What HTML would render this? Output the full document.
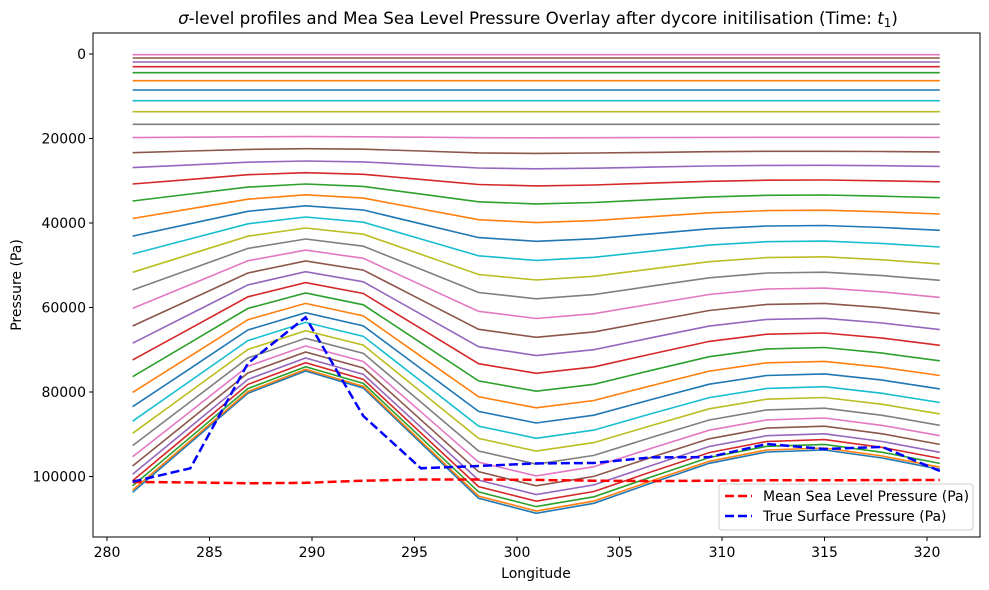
<!DOCTYPE html>
<html><head><meta charset="utf-8"><style>
body{margin:0;background:#fff}
svg{display:block;font-family:"DejaVu Sans","Liberation Sans",sans-serif}
</style></head><body>
<svg id="chart" width="989" height="590" viewBox="0 0 989 590" xmlns="http://www.w3.org/2000/svg">
<rect x="0" y="0" width="989" height="590" fill="#fff"/>
<text x="538" y="24" font-size="16.7" text-anchor="middle"><tspan font-style="italic">σ</tspan>-level profiles and Mea Sea Level Pressure Overlay after dycore initilisation (Time: <tspan font-style="italic">t</tspan><tspan font-size="12" dy="3">1</tspan><tspan dy="-3">)</tspan></text>
<g id="plot"></g>
<rect x="93" y="33" width="887" height="504" fill="none" stroke="#000" stroke-width="1"/>
<g id="xticks"></g>
<g id="yticks"></g>
<text x="536" y="578" font-size="14" text-anchor="middle">Longitude</text>
<text x="0" y="0" font-size="14" text-anchor="middle" transform="translate(21,285) rotate(-90)">Pressure (Pa)</text>
<g>
<rect x="719" y="484" width="254" height="46" rx="3" fill="#fff" fill-opacity="0.8" stroke="#ccc"/>
<line x1="725" y1="496" x2="752" y2="496" stroke="#ff0000" stroke-width="2.5" stroke-dasharray="9,4"/>
<text x="763" y="501" font-size="14">Mean Sea Level Pressure (Pa)</text>
<line x1="725" y1="516" x2="752" y2="516" stroke="#0000ff" stroke-width="2.5" stroke-dasharray="9,4"/>
<text x="763" y="521" font-size="14"> True Surface Pressure (Pa)</text>
</g>
</svg>
<script>
const longitudes = [281.25,284.0625,286.875,289.6875,292.5,295.3125,298.125,300.9375,303.75,306.5625,309.375,312.1875,315,317.8125,320.625];
const modelSurface = [103740,92030,80310,75030,79060,92100,105170,108720,106350,101550,96880,94200,93730,95630,98300];
const trueSurface = [101230,98070,73210,62320,85690,98070,97520,96890,96800,95470,95400,92300,93500,93000,98700];
const mslp = [101300,101400,101600,101500,101000,100700,100700,100800,101000,101100,101000,100900,100900,100850,100830];
const hybridA = [0,0,260,70,0,0,590,880,2010,2460,3080,3950,4800,6320,7340,8780,10320,12280,13800,15690,17160,18700,20260,21110,21190,19930,18960,16640,13660,11050,8520,6320,4430,3010,1890,950,170];
const hybridB = [1,0.995,0.983,0.973,0.959,0.94,0.913,0.885,0.846,0.814,0.775,0.734,0.69,0.637,0.589,0.536,0.481,0.42,0.365,0.305,0.25,0.195,0.14,0.093,0.055,0.033,0.008,0,0,0,0,0,0,0,0,0,0];
const xTicks = [280,285,290,295,300,305,310,315,320];
const yTicks = [0,20000,40000,60000,80000,100000];
const palette = ['#1f77b4','#ff7f0e','#2ca02c','#d62728','#9467bd','#8c564b','#e377c2','#7f7f7f','#bcbd22','#17becf'];
const NS='http://www.w3.org/2000/svg';
function xs(v){return 107+(v-280)*20.5;}
function ys(p){return 54+p*0.004225;}
function mk(t,a,parent){const e=document.createElementNS(NS,t);for(const k in a)e.setAttribute(k,a[k]);parent.appendChild(e);return e;}
const plot=document.getElementById('plot');
function pts(arr){return arr.map((p,i)=>xs(longitudes[i]).toFixed(1)+','+ys(p).toFixed(1)).join(' ');}
for(let k=0;k<hybridA.length;k++){
  const vals=modelSurface.map(ps=>hybridA[k]+hybridB[k]*ps);
  const l=mk('polyline',{points:pts(vals),fill:'none',stroke:palette[k%10],'stroke-width':1.6},plot);
  
  
}
const m=mk('polyline',{points:pts(mslp),fill:'none',stroke:'#ff0000','stroke-width':2.5,'stroke-dasharray':'9,4'},plot);


const s=mk('polyline',{points:pts(trueSurface),fill:'none',stroke:'#0000ff','stroke-width':2.5,'stroke-dasharray':'9,4'},plot);


const xg=document.getElementById('xticks');
xTicks.forEach(v=>{
  const t=mk('line',{x1:xs(v),y1:537,x2:xs(v),y2:541,stroke:'#000'},xg);
  
  
  const tx=mk('text',{x:xs(v),y:557,'font-size':14,'text-anchor':'middle'},xg);
  
  
  tx.textContent=v;
});
const yg=document.getElementById('yticks');
yTicks.forEach(v=>{
  const t=mk('line',{x1:89,y1:ys(v),x2:93,y2:ys(v),stroke:'#000'},yg);
  
  
  const tx=mk('text',{x:86,y:ys(v)+5,'font-size':14,'text-anchor':'end'},yg);
  
  
  tx.textContent=v;
});
</script>
</body></html>
